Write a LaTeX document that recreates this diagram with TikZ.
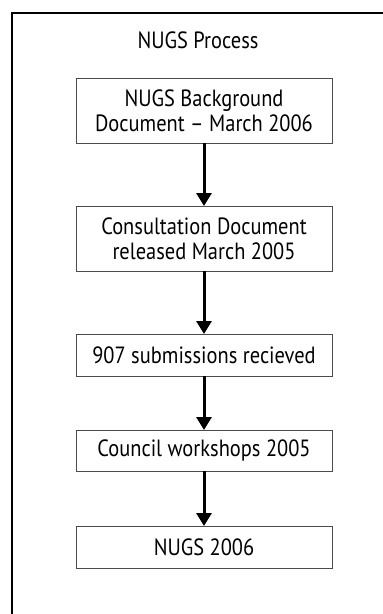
\documentclass[tikz,border=0pt]{standalone}
\usepackage{fontspec}
\setmainfont[FakeStretch=0.87]{PT Sans}
\usetikzlibrary{positioning}
\usetikzlibrary{arrows.meta}
\tikzset{>={Triangle[width=15pt,length=13pt]}}

\begin{document}
\begin{tikzpicture}[
    x = 1pt, y = -1pt,
    node distance = 63pt,
    box/.style = {draw=black!70, line width=1pt, minimum width=256pt,
        align=center, font=\fontsize{23.5}{25}\selectfont,
        outer sep = 0pt},
    link/.style = {->, line width=3pt}
  ]
  \useasboundingbox (0,0) rectangle (383,614);
  \clip (0,0) rectangle (383,614);
  \draw[line width=1.2pt] (12,13) rectangle (390,620);

  \node[font=\fontsize{23.5}{25}\selectfont] (title) at (198,40) {NUGS Process};

  \node[box, minimum height=65pt] (bg) at (204,110.5)
    {NUGS Background\\Document -- March 2006};
  \node[box, minimum height=65pt, below=of bg] (cons)
    {Consultation Document\\released March 2005};
  \node[box, minimum height=42pt, below=of cons] (subs) {907 submissions recieved};
  \node[box, minimum height=41pt, below=54pt of subs] (work) {Council workshops 2005};
  \node[box, minimum height=42pt, below=55pt of work] (nugs) {NUGS 2006};

  \foreach \a/\b in {bg/cons, cons/subs, subs/work, work/nugs}
    \draw[link] (\a) -- (\b);
\end{tikzpicture}
\end{document}
